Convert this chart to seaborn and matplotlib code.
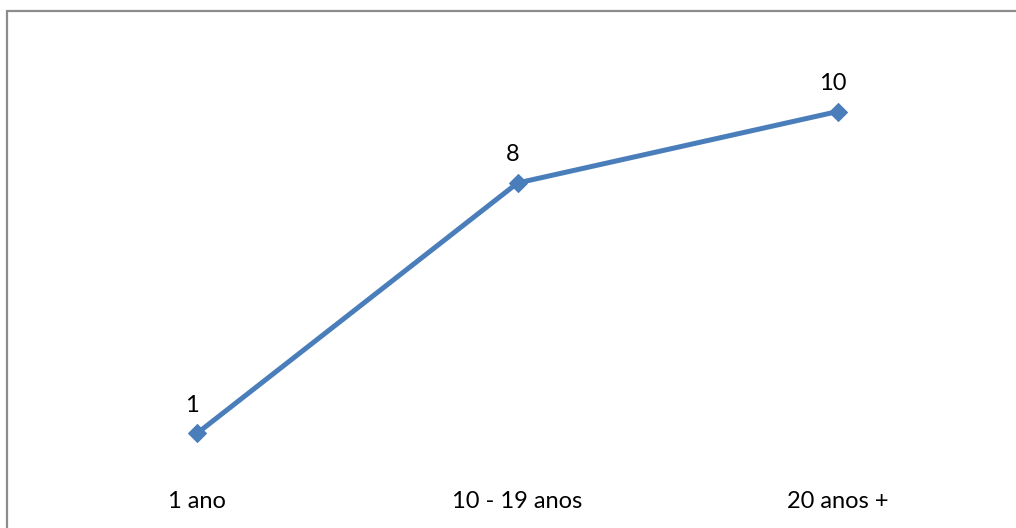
import matplotlib
matplotlib.use("Agg")
import matplotlib.pyplot as plt
import seaborn as sns
import pandas as pd
from matplotlib.patches import Rectangle

categories = ["1 ano", "10 - 19 anos", "20 anos +"]
values = [1, 8, 10]

sns.set_theme(style="white")
plt.rcParams["font.family"] = ["Lato", "DejaVu Sans"]

W, H = 1016, 528
fig = plt.figure(figsize=(W / 100, H / 100), dpi=100)

# chart frame, open on the right and bottom edges
fig.patches.append(Rectangle((7 / W, -0.05), 1.1, 1 - 11 / H + 0.05,
                             transform=fig.transFigure, fill=False,
                             edgecolor="#8c8c8c", linewidth=1.6))

left, right, top, bottom = 37, 998, 40, 469
ax = fig.add_axes([left / W, 1 - bottom / H, (right - left) / W, (bottom - top) / H])

df = pd.DataFrame({"categoria": categories, "valor": values})
color = "#4A7EBB"
sns.lineplot(data=df, x="categoria", y="valor", ax=ax, color=color,
             linewidth=3.6, marker="D", markersize=8.7,
             markeredgecolor=color, markerfacecolor=color, sort=False)

for i, v in enumerate(values):
    ax.annotate(str(v), (i, v), xytext=(-3.5, 15.5), textcoords="offset points",
                ha="center", va="baseline", fontsize=17, color="black")

ax.set_xlim(-0.5, 2.5)
ax.set_ylim(0, 12)
ax.set_xticks(range(len(categories)))
ax.set_xticklabels(categories, fontsize=17, color="black")
ax.set_yticks([])
ax.tick_params(axis="x", length=0, pad=16)
ax.set_xlabel("")
ax.set_ylabel("")
for s in ax.spines.values():
    s.set_visible(False)
ax.patch.set_alpha(0)

fig.savefig("out.png", dpi=100)
